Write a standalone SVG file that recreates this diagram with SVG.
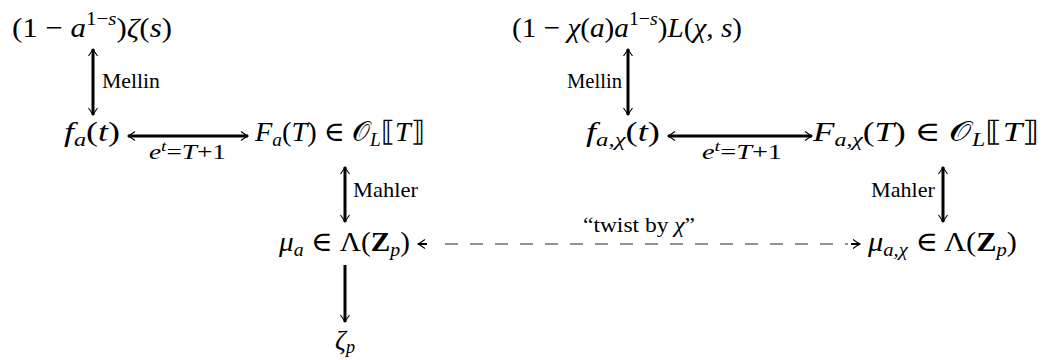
<svg xmlns="http://www.w3.org/2000/svg" width="1042" height="360" viewBox="0 0 1042 360">
<defs>
<style>
.m{font-family:"Liberation Serif","DejaVu Serif",serif;font-size:28px;fill:#000}
.i{font-style:italic}
.b{font-weight:bold}
.sup{font-size:19px}
.lab{font-family:"Liberation Serif","DejaVu Serif",serif;font-size:21px;fill:#000}
.ls{font-size:15px}
.arr{stroke:#000;stroke-width:3;fill:none}
.dash{stroke:#707070;stroke-width:1.4;stroke-dasharray:13 12;fill:none}
</style>
<marker id="ah" viewBox="-10 -6 12 12" markerWidth="12" markerHeight="12" refX="0" refY="0" orient="auto-start-reverse" markerUnits="userSpaceOnUse">
<path d="M-7,-4.5 Q-2.5,-1.2 0,0 Q-2.5,1.2 -7,4.5" fill="none" stroke="#000" stroke-width="1.1"/>
</marker>
</defs>
<rect width="1042" height="360" fill="#fff"/>

<g id="connectors">
<line class="arr" x1="93" y1="49" x2="93" y2="115" marker-start="url(#ah)" marker-end="url(#ah)"/>
<line class="arr" x1="628" y1="49" x2="628" y2="115" marker-start="url(#ah)" marker-end="url(#ah)"/>
<line class="arr" x1="128" y1="136" x2="248" y2="136" marker-start="url(#ah)" marker-end="url(#ah)"/>
<line class="arr" x1="668" y1="136" x2="812" y2="136" marker-start="url(#ah)" marker-end="url(#ah)"/>
<line class="arr" x1="345" y1="167" x2="345" y2="222" marker-start="url(#ah)" marker-end="url(#ah)"/>
<line class="arr" x1="943" y1="167" x2="943" y2="222" marker-start="url(#ah)" marker-end="url(#ah)"/>
<line class="arr" x1="345" y1="265" x2="345" y2="322" marker-end="url(#ah)"/>
<line class="dash" x1="445" y1="244" x2="848" y2="244"/>
<line x1="418" y1="244" x2="427" y2="244" stroke="#000" stroke-width="2"/>
<line x1="851" y1="244" x2="860" y2="244" stroke="#000" stroke-width="2"/>
<line x1="418" y1="244" x2="860" y2="244" stroke="none" marker-start="url(#ah)" marker-end="url(#ah)"/>
<text class="lab" x="102" y="88" textLength="58" lengthAdjust="spacingAndGlyphs">Mellin</text>
<text class="lab" x="567" y="88" textLength="55" lengthAdjust="spacingAndGlyphs">Mellin</text>
<text class="lab" x="149" y="159" textLength="77" lengthAdjust="spacingAndGlyphs"><tspan class="i">e</tspan><tspan class="ls" dy="-8" font-style="italic">t</tspan><tspan dy="8">=</tspan><tspan class="i">T</tspan>+1</text>
<text class="lab" x="702" y="159" textLength="80" lengthAdjust="spacingAndGlyphs"><tspan class="i">e</tspan><tspan class="ls" dy="-8" font-style="italic">t</tspan><tspan dy="8">=</tspan><tspan class="i">T</tspan>+1</text>
<text class="lab" x="353" y="197" textLength="65" lengthAdjust="spacingAndGlyphs">Mahler</text>
<text class="lab" x="871" y="197" textLength="64" lengthAdjust="spacingAndGlyphs">Mahler</text>
<text class="lab" x="583" y="232" textLength="112" lengthAdjust="spacingAndGlyphs">“twist by <tspan class="i">χ</tspan>”</text>
</g>

<g id="n1"><text class="m" x="12" y="37" textLength="160" lengthAdjust="spacingAndGlyphs">(1 − <tspan class="i">a</tspan><tspan class="sup" dy="-12">1−<tspan class="i">s</tspan></tspan><tspan dy="12">)</tspan><tspan class="i">ζ</tspan>(<tspan class="i">s</tspan>)</text></g>
<g id="n2"><text class="m" x="512" y="37" textLength="230" lengthAdjust="spacingAndGlyphs">(1 − <tspan class="i">χ</tspan>(<tspan class="i">a</tspan>)<tspan class="i">a</tspan><tspan class="sup" dy="-12">1−<tspan class="i">s</tspan></tspan><tspan dy="12">)</tspan><tspan class="i">L</tspan>(<tspan class="i">χ</tspan>, <tspan class="i">s</tspan>)</text></g>
<g id="n3"><text class="m" x="64" y="141" textLength="56" lengthAdjust="spacingAndGlyphs"><tspan class="i">f</tspan><tspan class="sup i" dy="5">a</tspan><tspan dy="-5">(</tspan><tspan class="i">t</tspan>)</text></g>
<g id="n4"><text class="m" x="255" y="141" textLength="170" lengthAdjust="spacingAndGlyphs"><tspan class="i">F</tspan><tspan class="sup i" dy="5">a</tspan><tspan dy="-5">(</tspan><tspan class="i">T</tspan>) ∈ 𝒪<tspan class="sup i" dy="5">L</tspan><tspan dy="-5">⟦</tspan><tspan class="i">T</tspan>⟧</text></g>
<g id="n5"><text class="m" x="586" y="141" textLength="74" lengthAdjust="spacingAndGlyphs"><tspan class="i">f</tspan><tspan class="sup i" dy="5">a,χ</tspan><tspan dy="-5">(</tspan><tspan class="i">t</tspan>)</text></g>
<g id="n6"><text class="m" x="813" y="141" textLength="227" lengthAdjust="spacingAndGlyphs"><tspan class="i">F</tspan><tspan class="sup i" dy="5">a,χ</tspan><tspan dy="-5">(</tspan><tspan class="i">T</tspan>) ∈ 𝒪<tspan class="sup i" dy="5">L</tspan><tspan dy="-5">⟦</tspan><tspan class="i">T</tspan>⟧</text></g>
<g id="n7"><text class="m" x="279" y="251" textLength="131" lengthAdjust="spacingAndGlyphs"><tspan class="i">μ</tspan><tspan class="sup i" dy="5">a</tspan><tspan dy="-5"> ∈ Λ(</tspan><tspan class="b">Z</tspan><tspan class="sup i" dy="5">p</tspan><tspan dy="-5">)</tspan></text></g>
<g id="n8"><text class="m" x="868" y="251" textLength="149" lengthAdjust="spacingAndGlyphs"><tspan class="i">μ</tspan><tspan class="sup i" dy="5">a,χ</tspan><tspan dy="-5"> ∈ Λ(</tspan><tspan class="b">Z</tspan><tspan class="sup i" dy="5">p</tspan><tspan dy="-5">)</tspan></text></g>
<g id="n9"><text class="m" x="335" y="349" textLength="20" lengthAdjust="spacingAndGlyphs"><tspan class="i">ζ</tspan><tspan class="sup i" dy="4">p</tspan></text></g>
</svg>
